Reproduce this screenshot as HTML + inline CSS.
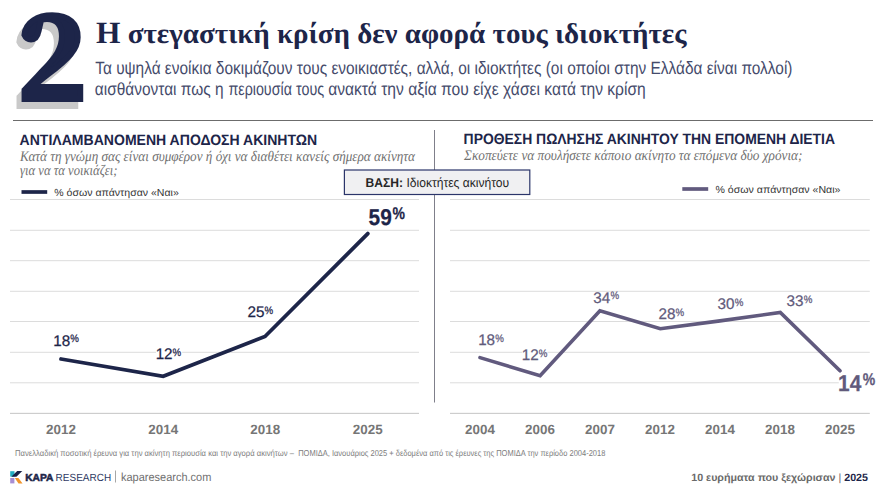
<!DOCTYPE html>
<html lang="el">
<head>
<meta charset="utf-8">
<title>Η στεγαστική κρίση δεν αφορά τους ιδιοκτήτες</title>
<style>
  html, body { margin: 0; padding: 0; background: #ffffff; }
  body { width: 880px; height: 495px; overflow: hidden; }
  svg { display: block; text-rendering: geometricPrecision; }
  .sans { font-family: "Liberation Sans", "DejaVu Sans", sans-serif; }
  .serif { font-family: "Liberation Serif", "DejaVu Serif", serif; }
  .navy { fill: #1d2549; }
  .purple { fill: #615a7b; }
  .grid line { stroke: #dcdcdc; stroke-width: 1; }
</style>
</head>
<body>
<svg width="880" height="495" viewBox="0 0 880 495">
  <rect x="0" y="0" width="880" height="495" fill="#ffffff"/>

  <!-- big numeral with shadow -->
  <g font-family="'Noto Serif CJK SC', 'DejaVu Serif', 'Liberation Serif', serif" font-weight="700" font-size="115" stroke-width="6" stroke-linejoin="miter" stroke-miterlimit="3">
    <text x="12.9" y="106.2" fill="#c9c9c9" stroke="#c9c9c9">2</text>
    <text x="17.9" y="99.2" fill="#1d2549" stroke="#1d2549">2</text>
  </g>

  <!-- headline -->
  <text class="serif navy" x="96" y="43.3" font-size="28.6" font-weight="bold" textLength="590.5" lengthAdjust="spacingAndGlyphs"><tspan font-size="31">Η</tspan> στεγαστική κρίση δεν αφορά τους ιδιοκτήτες</text>
  <g class="sans" font-size="17.8" fill="#454b6b">
    <text x="95.2" y="73.7" textLength="697.3" lengthAdjust="spacingAndGlyphs">Τα υψηλά ενοίκια δοκιμάζουν τους ενοικιαστές, αλλά, οι ιδιοκτήτες (οι οποίοι στην Ελλάδα είναι πολλοί)</text>
    <text x="94.85" y="94.7" textLength="128.75" lengthAdjust="spacingAndGlyphs">αισθάνονται πως η</text>
    <text x="228.45" y="94.7" textLength="63.46" lengthAdjust="spacingAndGlyphs">περιουσία</text>
    <text x="296.10" y="94.7" textLength="28.14" lengthAdjust="spacingAndGlyphs">τους</text>
    <text x="328.15" y="94.7" textLength="317.66" lengthAdjust="spacingAndGlyphs">ανακτά την αξία που είχε χάσει κατά την κρίση</text>
  </g>

  <!-- top rule -->
  <line x1="13" y1="120.5" x2="873" y2="120.5" stroke="#6c6c6c" stroke-width="1"/>

  <!-- panel divider -->
  <line x1="434.5" y1="130" x2="434.5" y2="402.5" stroke="#7f7f8a" stroke-width="1"/>

  <!-- gridlines -->
  <g class="grid">
    <line x1="10" y1="199.5" x2="419" y2="199.5"/>
    <line x1="10" y1="230.3" x2="419" y2="230.3"/>
    <line x1="10" y1="260.7" x2="419" y2="260.7"/>
    <line x1="10" y1="291.3" x2="419" y2="291.3"/>
    <line x1="10" y1="321.5" x2="419" y2="321.5"/>
    <line x1="10" y1="352.3" x2="419" y2="352.3"/>
    <line x1="10" y1="382.8" x2="419" y2="382.8"/>
    <line x1="10" y1="413.35" x2="419" y2="413.35" style="stroke:#c4c4c4"/>
    <line x1="450" y1="199.5" x2="869.8" y2="199.5"/>
    <line x1="450" y1="230.3" x2="869.8" y2="230.3"/>
    <line x1="450" y1="260.7" x2="869.8" y2="260.7"/>
    <line x1="450" y1="291.3" x2="869.8" y2="291.3"/>
    <line x1="450" y1="321.5" x2="869.8" y2="321.5"/>
    <line x1="450" y1="352.3" x2="869.8" y2="352.3"/>
    <line x1="450" y1="382.8" x2="869.8" y2="382.8"/>
    <line x1="450" y1="413.35" x2="869.8" y2="413.35" style="stroke:#c4c4c4"/>
  </g>

  <!-- label backgrounds masking the gridlines -->
  <g fill="#ffffff">
    <rect x="156" y="350" width="26.2" height="5"/>
    <rect x="522.2" y="350" width="25.2" height="5"/>
    <rect x="838.8" y="380.5" width="31.5" height="5"/>
  </g>

  <!-- left panel header -->
  <text class="sans navy" x="19.6" y="144.8" font-size="15" font-weight="bold" textLength="297.6" lengthAdjust="spacingAndGlyphs">ΑΝΤΙΛΑΜΒΑΝΟΜΕΝΗ ΑΠΟΔΟΣΗ ΑΚΙΝΗΤΩΝ</text>
  <g class="serif" font-style="italic" font-size="14.6" fill="#707070">
    <text x="20" y="160.7" textLength="395" lengthAdjust="spacingAndGlyphs">Κατά τη γνώμη σας είναι συμφέρον ή όχι να διαθέτει κανείς σήμερα ακίνητα</text>
    <text x="20" y="175.2" textLength="97.5" lengthAdjust="spacingAndGlyphs">για να τα νοικιάζει;</text>
  </g>
  <line x1="21.5" y1="192" x2="47.2" y2="192" stroke="#1d2549" stroke-width="3.7"/>
  <text class="sans" x="54.3" y="196" font-size="10.3" fill="#333" textLength="124.5" lengthAdjust="spacingAndGlyphs">% όσων απάντησαν «Ναι»</text>

  <!-- right panel header -->
  <text class="sans navy" x="463.6" y="144.2" font-size="15" font-weight="bold" textLength="371.4" lengthAdjust="spacingAndGlyphs">ΠΡΟΘΕΣΗ ΠΩΛΗΣΗΣ ΑΚΙΝΗΤΟΥ ΤΗΝ ΕΠΟΜΕΝΗ ΔΙΕΤΙΑ</text>
  <text class="serif" x="464" y="160.4" font-style="italic" font-size="14.6" fill="#707070" textLength="338.5" lengthAdjust="spacingAndGlyphs">Σκοπεύετε να πουλήσετε κάποιο ακίνητο τα επόμενα δύο χρόνια;</text>
  <line x1="682.3" y1="189" x2="708.2" y2="189" stroke="#615a7e" stroke-width="3.7"/>
  <text class="sans" x="715.5" y="193.3" font-size="10.3" fill="#333" textLength="125" lengthAdjust="spacingAndGlyphs">% όσων απάντησαν «Ναι»</text>

  <!-- base box -->
  <rect x="344.4" y="170" width="185.4" height="24.5" fill="#f0f0f2" stroke="#2b356a" stroke-width="1.2"/>
  <text class="sans" x="365.6" y="186.8" font-size="12.9" fill="#262626" textLength="143.6" lengthAdjust="spacingAndGlyphs"><tspan font-weight="bold">ΒΑΣΗ:</tspan> Ιδιοκτήτες ακινήτου</text>

  <!-- left chart -->
  <polyline points="61,359 163.2,376.3 265,336.5 367.8,233.6" fill="none" stroke="#1d2549" stroke-width="3.8" stroke-linecap="round" stroke-linejoin="miter"/>
  <g class="sans navy" stroke="#1d2549" stroke-width="0.25">
    <text x="53.24" y="345.50" font-size="15.4" textLength="16.96" lengthAdjust="spacingAndGlyphs">18</text><text x="70.29" y="342.10" font-size="10.8" textLength="8.64" lengthAdjust="spacingAndGlyphs">%</text>
    <text x="155.64" y="359.30" font-size="15.4" textLength="16.96" lengthAdjust="spacingAndGlyphs">12</text><text x="172.58" y="355.90" font-size="10.8" textLength="8.64" lengthAdjust="spacingAndGlyphs">%</text>
    <text x="247.43" y="317.20" font-size="15.4" textLength="16.96" lengthAdjust="spacingAndGlyphs">25</text><text x="264.50" y="313.80" font-size="10.8" textLength="8.64" lengthAdjust="spacingAndGlyphs">%</text>
    <text x="368.56" y="224.50" font-size="22.8" font-weight="bold" textLength="23.20" lengthAdjust="spacingAndGlyphs">59</text><text x="392.54" y="219.10" font-size="17" font-weight="bold" textLength="12.46" lengthAdjust="spacingAndGlyphs">%</text>
  </g>
  <g class="sans" font-size="13.4" font-weight="bold" fill="#767676" text-anchor="middle">
    <text x="61" y="434.2">2012</text>
    <text x="163.2" y="434.2">2014</text>
    <text x="265.2" y="434.2">2018</text>
    <text x="367.7" y="434.2">2025</text>
  </g>

  <!-- right chart -->
  <polyline points="480,357.6 540.1,375.8 599.9,310.7 660.3,328.7 720,320.9 780.3,312.4 840,370.8" fill="none" stroke="#615a7e" stroke-width="3.6" stroke-linecap="round" stroke-linejoin="miter"/>
  <g class="sans purple" stroke="#615a7b" stroke-width="0.25">
    <text x="478.14" y="345.20" font-size="15.4" textLength="16.96" lengthAdjust="spacingAndGlyphs">18</text><text x="495.19" y="341.80" font-size="10.8" textLength="8.64" lengthAdjust="spacingAndGlyphs">%</text>
    <text x="521.84" y="360.40" font-size="15.4" textLength="16.96" lengthAdjust="spacingAndGlyphs">12</text><text x="538.78" y="357.00" font-size="10.8" textLength="8.64" lengthAdjust="spacingAndGlyphs">%</text>
    <text x="593.32" y="302.60" font-size="15.4" textLength="16.96" lengthAdjust="spacingAndGlyphs">34</text><text x="610.58" y="299.20" font-size="10.8" textLength="8.64" lengthAdjust="spacingAndGlyphs">%</text>
    <text x="658.53" y="319.40" font-size="15.4" textLength="16.96" lengthAdjust="spacingAndGlyphs">28</text><text x="675.58" y="316.00" font-size="10.8" textLength="8.64" lengthAdjust="spacingAndGlyphs">%</text>
    <text x="717.52" y="309.40" font-size="15.4" textLength="16.96" lengthAdjust="spacingAndGlyphs">30</text><text x="734.64" y="306.00" font-size="10.8" textLength="8.64" lengthAdjust="spacingAndGlyphs">%</text>
    <text x="786.62" y="306.20" font-size="15.4" textLength="16.96" lengthAdjust="spacingAndGlyphs">33</text><text x="803.66" y="302.80" font-size="10.8" textLength="8.64" lengthAdjust="spacingAndGlyphs">%</text>
    <text x="838.09" y="390.70" font-size="22.8" font-weight="bold" textLength="23.20" lengthAdjust="spacingAndGlyphs">14</text><text x="862.73" y="385.30" font-size="17" font-weight="bold" textLength="12.46" lengthAdjust="spacingAndGlyphs">%</text>
  </g>
  <g class="sans" font-size="13.4" font-weight="bold" fill="#767676" text-anchor="middle">
    <text x="480" y="434.2">2004</text>
    <text x="540" y="434.2">2006</text>
    <text x="600" y="434.2">2007</text>
    <text x="660" y="434.2">2012</text>
    <text x="720" y="434.2">2014</text>
    <text x="780" y="434.2">2018</text>
    <text x="840" y="434.2">2025</text>
  </g>

  <!-- footnote -->
  <g class="sans" font-size="8.6" fill="#7d7d7d">
    <text x="15.07" y="455.5" textLength="278.83" lengthAdjust="spacingAndGlyphs">Πανελλαδική ποσοτική έρευνα για την ακίνητη περιουσία και την αγορά ακινήτων –</text>
    <text x="298.19" y="455.5" textLength="307.14" lengthAdjust="spacingAndGlyphs">ΠΟΜΙΔΑ, Ιανουάριος 2025 + δεδομένα από τις έρευνες της ΠΟΜΙΔΑ την περίοδο 2004-2018</text>
  </g>

  <!-- logo -->
  <g>
    <polygon points="10.2,471.2 14.5,471.2 14.5,476.6 10.2,476.6" fill="#25aec2"/>
    <polygon points="17.2,471.1 22.3,471.1 16.4,476.8 11.3,476.8" fill="#1a2146"/>
    <polygon points="10.2,478 14.4,478 14.4,483.4 10.2,483.4" fill="#a88ed3"/>
    <polygon points="14.8,478 18.4,478 22.6,483.4 18.5,483.4" fill="#f2952b"/>
  </g>
  <text class="sans navy" x="25.2" y="480.6" font-size="10.2" font-weight="bold" stroke="#1d2549" stroke-width="0.5" textLength="28.3" lengthAdjust="spacingAndGlyphs">KAPA</text>
  <text class="sans" x="55.6" y="480.6" font-size="10.3" fill="#2f3a63" textLength="55.6" lengthAdjust="spacingAndGlyphs">RESEARCH</text>
  <line x1="115.5" y1="470.5" x2="115.5" y2="482.5" stroke="#a6a6a6" stroke-width="1"/>
  <text class="sans" x="121" y="481" font-size="11.7" fill="#707070" textLength="90.3" lengthAdjust="spacingAndGlyphs">kaparesearch.com</text>

  <!-- footer right -->
  <text class="sans" x="691.2" y="481.2" font-size="10.5" font-weight="bold" fill="#6a6a6a" textLength="176.8" lengthAdjust="spacingAndGlyphs">10 ευρήματα που ξεχώρισαν <tspan font-weight="normal">|</tspan> <tspan fill="#1d2549">2025</tspan></text>
</svg>
</body>
</html>
